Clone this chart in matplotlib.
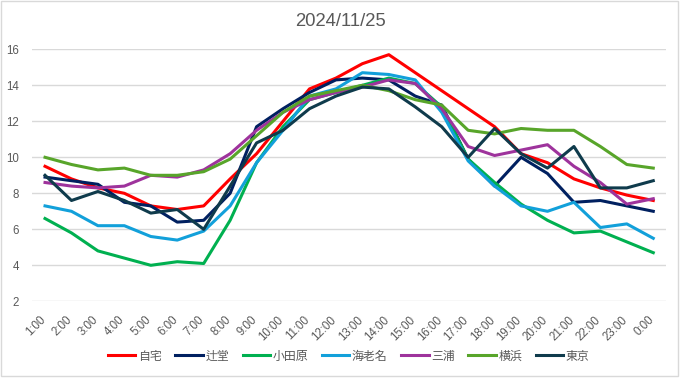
import numpy as np
import matplotlib.pyplot as plt
import matplotlib.transforms as mtrans
from matplotlib.patches import Rectangle

# tidspunkter (x-akse)
timer = ['1:00', '2:00', '3:00', '4:00', '5:00', '6:00', '7:00', '8:00',
         '9:00', '10:00', '11:00', '12:00', '13:00', '14:00', '15:00', '16:00',
         '17:00', '18:00', '19:00', '20:00', '21:00', '22:00', '23:00', '0:00']

# verdier lest av figuren
jitaku = [9.5, 8.8, 8.3, 8.0, 7.3, 7.1, 7.3, 8.8,
          10.2, 12.0, 13.8, 14.4, 15.2, 15.7, 14.7, 13.7,
          12.7, 11.7, 10.2, 9.7, 8.8, 8.3, 7.9, 7.6]
tsujido = [8.9, 8.7, 8.5, 7.5, 7.3, 6.4, 6.5, 8.0,
           11.7, 12.7, 13.6, 14.3, 14.4, 14.3, 13.4, 12.9,
           9.9, 8.4, 10.0, 9.1, 7.5, 7.6, 7.3, 7.0]
odawara = [6.6, 5.8, 4.8, 4.4, 4.0, 4.2, 4.1, 6.5,
           9.7, 11.7, 13.2, 13.6, 14.0, 14.4, 14.1, 12.8,
           9.9, 8.6, 7.4, 6.5, 5.8, 5.9, 5.3, 4.7]
ebina = [7.3, 7.0, 6.2, 6.2, 5.6, 5.4, 5.9, 7.3,
         9.7, 11.5, 13.4, 13.8, 14.7, 14.6, 14.3, 12.5,
         9.8, 8.4, 7.3, 7.0, 7.5, 6.1, 6.3, 5.5]
miura = [8.6, 8.4, 8.3, 8.4, 9.0, 8.9, 9.3, 10.2,
         11.5, 12.5, 13.2, 13.6, 13.9, 14.3, 14.1, 12.7,
         10.6, 10.1, 10.4, 10.7, 9.5, 8.6, 7.4, 7.7]
yokohama = [10.0, 9.6, 9.3, 9.4, 9.0, 9.0, 9.2, 9.9,
            11.2, 12.5, 13.4, 13.7, 14.0, 13.7, 13.2, 12.9,
            11.5, 11.3, 11.6, 11.5, 11.5, 10.6, 9.6, 9.4]
tokyo = [9.0, 7.6, 8.1, 7.6, 6.9, 7.1, 6.0, 8.4,
         10.8, 11.5, 12.7, 13.4, 13.9, 13.8, 12.8, 11.7,
         10.0, 11.6, 10.2, 9.4, 10.6, 8.3, 8.3, 8.7]

navn = ['自宅', '辻堂', '小田原', '海老名', '三浦', '横浜', '東京']
serier = [jitaku, tsujido, odawara, ebina, miura, yokohama, tokyo]
farger = ['#FF0000', '#002060', '#00B050', '#12A0DA', '#9E339C', '#58A52A', '#0F3B4C']

plt.rcParams['font.family'] = ['Liberation Sans', 'Noto Sans CJK JP', 'DejaVu Sans']
grå = '#595959'

fig = plt.figure(figsize=(6.81, 3.78), dpi=100)
ax = fig.add_axes([0.0467, 0.2029, 0.9320, 0.6667])

x = np.arange(len(timer))
for verdier, n, f in zip(serier, navn, farger):
    ax.plot(x, verdier, color=f, lw=2.2, label=n)

ax.set_xlim(-0.5, len(timer) - 0.5)
ax.set_ylim(2, 16)
ax.set_yticks(range(2, 17, 2))
ax.set_xticks(x)
ax.set_xticklabels(timer, rotation=45, ha='right', va='top')
ax.tick_params(axis='both', length=0, colors=grå, labelsize=8.3)
ax.tick_params(axis='x', pad=9)
ax.tick_params(axis='y', pad=9)
ax.grid(axis='y', color='#D9D9D9', lw=1)
ax.set_axisbelow(True)
for s in ax.spines.values():
    s.set_visible(False)

# flytt x-etikettene litt til høyre
skift = mtrans.ScaledTranslation(3 / 100, 0, fig.dpi_scale_trans)
for lab in ax.get_xticklabels():
    lab.set_transform(lab.get_transform() + skift)

fig.text(0.5, 0.942, '2024/11/25', ha='center', va='center', fontsize=13.3, color=grå)

leg = fig.legend(loc='center', bbox_to_anchor=(0.512, 0.058), ncol=7, frameon=False,
                 handlelength=2.3, columnspacing=1.15, handletextpad=0.2,
                 prop={'family': ['Noto Sans CJK JP', 'DejaVu Sans'], 'size': 8.6})
for t in leg.get_texts():
    t.set_color(grå)

# ramme rundt hele figuren
fig.patches.append(Rectangle((0.002, 0.004), 0.994, 0.993, transform=fig.transFigure,
                             fill=False, edgecolor='#D9D9D9', lw=1))

fig.savefig('out.png', dpi=100)
